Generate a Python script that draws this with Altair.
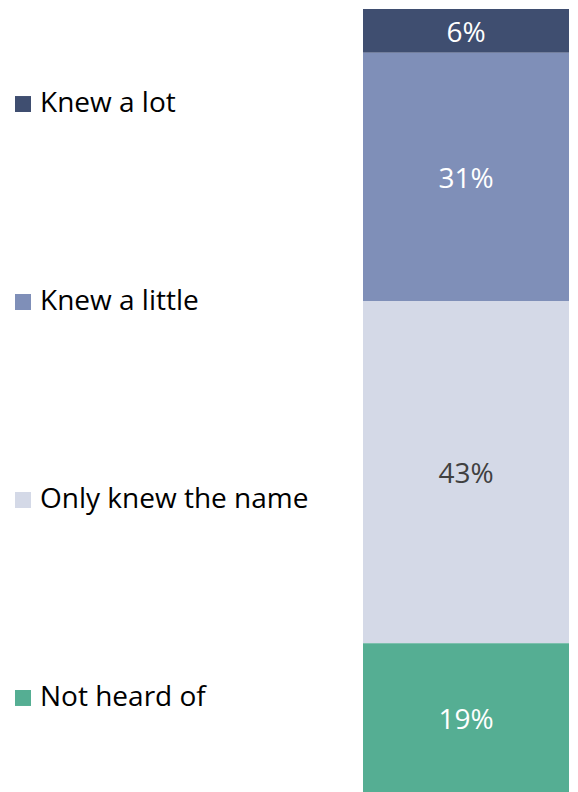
import altair as alt
import pandas as pd

categories = ["Knew a lot", "Knew a little", "Only knew the name", "Not heard of"]
values = [5.5, 31.2, 43.0, 18.7]
labels = ["6%", "31%", "43%", "19%"]
colors = ["#3F4E70", "#7F8FB8", "#D4D9E7", "#55AE93"]
label_colors = ["#FFFFFF", "#FFFFFF", "#404040", "#FFFFFF"]
stack_order = [3, 2, 1, 0]

df = pd.DataFrame({
    "cat": categories,
    "value": values,
    "label": labels,
    "lcolor": label_colors,
    "order": stack_order,
    "grp": ["all"] * len(categories),
})

FONT = "Open Sans"
FS = 28
total = sum(values)

color_scale = alt.Scale(domain=categories, range=colors)

base = alt.Chart(df).transform_stack(
    stack="value", groupby=["grp"], sort=[alt.SortField("order", order="ascending")], as_=["y0", "y1"]
).transform_calculate(mid="(datum.y0 + datum.y1) / 2")

yscale = alt.Scale(domain=[0, total], nice=False, zero=True)
xenc = alt.X("grp:N", axis=None, scale=alt.Scale(paddingInner=0, paddingOuter=0))

bars = base.mark_bar(stroke=None).encode(
    x=xenc,
    y=alt.Y("y0:Q", scale=yscale, axis=None),
    y2="y1:Q",
    color=alt.Color("cat:N", scale=color_scale, legend=None),
)
texts = base.mark_text(font=FONT, fontSize=FS, baseline="middle", align="center", dy=3).encode(
    x=xenc,
    y=alt.Y("mid:Q", scale=yscale, axis=None),
    text="label:N",
    color=alt.Color("lcolor:N", scale=None),
)
bar_panel = alt.layer(bars, texts).properties(width=206, height=783)

yleg = alt.Y("cat:N", sort=categories, axis=None, scale=alt.Scale(type="point", padding=0.48))
squares = alt.Chart(df).mark_square(size=256, opacity=1).encode(
    x=alt.value(15),
    y=yleg,
    color=alt.Color("cat:N", scale=color_scale, legend=None),
)
leg_text = alt.Chart(df).mark_text(font=FONT, fontSize=FS, align="left", baseline="middle", color="#000000").encode(
    x=alt.value(32),
    y=yleg,
    text="cat:N",
)
legend_panel = alt.layer(squares, leg_text).properties(width=355, height=784)

chart = alt.hconcat(legend_panel, bar_panel, spacing=0).properties(
    padding={"left": 0, "top": 1, "right": 0, "bottom": 0}
).configure_view(stroke=None).configure_concat(spacing=0)

chart.save("out.html", embed_options={"renderer": "svg", "actions": False})
